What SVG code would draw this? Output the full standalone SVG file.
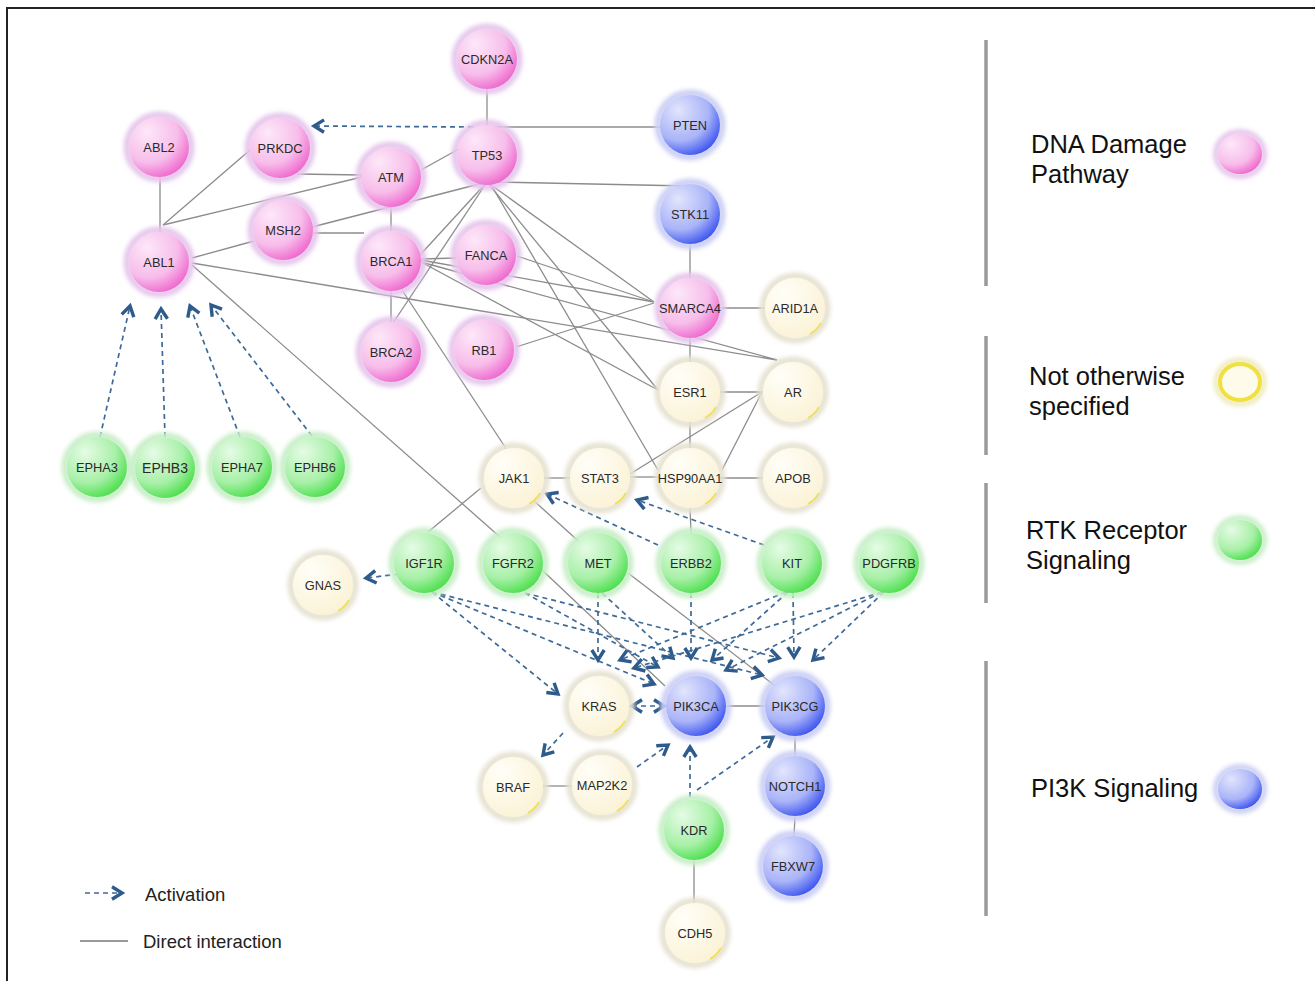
<svg xmlns="http://www.w3.org/2000/svg" xmlns:xlink="http://www.w3.org/1999/xlink" width="1315" height="981" viewBox="0 0 1315 981">
<style>
.e{stroke:#8c8c8c;stroke-width:1.3;fill:none}
.a{stroke:#3d6a98;stroke-width:1.7;stroke-dasharray:5 4;fill:none;marker-end:url(#ah)}
.nt{font-family:"Liberation Sans",Arial,sans-serif;font-size:12.8px;fill:#2a2a2a;text-anchor:middle}
.lg{font-family:"Liberation Sans",Arial,sans-serif;font-size:25.5px;fill:#111}
.ls{font-family:"Liberation Sans",Arial,sans-serif;font-size:18.5px;fill:#222}
.bar{stroke:#9a9a9a;stroke-width:3.5}
</style>
<defs>
<radialGradient id="gp" cx="0.35" cy="0.3" r="0.8" fx="0.3" fy="0.25"><stop offset="0" stop-color="#fde8f9"/><stop offset="0.6" stop-color="#f7bdea"/><stop offset="1" stop-color="#ee58c9"/></radialGradient>
<radialGradient id="gb" cx="0.35" cy="0.3" r="0.8" fx="0.3" fy="0.25"><stop offset="0" stop-color="#e2e5fc"/><stop offset="0.6" stop-color="#aab4f8"/><stop offset="1" stop-color="#2a44ee"/></radialGradient>
<radialGradient id="gg" cx="0.35" cy="0.3" r="0.8" fx="0.3" fy="0.25"><stop offset="0" stop-color="#e6fbe6"/><stop offset="0.6" stop-color="#a8f0a8"/><stop offset="1" stop-color="#3cdc3c"/></radialGradient>
<radialGradient id="gy" cx="0.35" cy="0.3" r="0.8" fx="0.3" fy="0.25"><stop offset="0" stop-color="#fffef8"/><stop offset="1" stop-color="#fbf2d4"/></radialGradient>
<filter id="blur" x="-30%" y="-30%" width="160%" height="160%"><feGaussianBlur stdDeviation="2.2"/></filter>
<marker id="ah" viewBox="0 0 16 16" markerWidth="16" markerHeight="16" refX="12.5" refY="8" orient="auto" markerUnits="userSpaceOnUse"><path d="M2.5,1.8 L12.5,8 L2.5,14.2" fill="none" stroke="#2d5b8c" stroke-width="3.4" stroke-dasharray="none"/></marker>
<marker id="ahs" viewBox="0 0 16 16" markerWidth="16" markerHeight="16" refX="12.5" refY="8" orient="auto-start-reverse" markerUnits="userSpaceOnUse"><path d="M2.5,1.8 L12.5,8 L2.5,14.2" fill="none" stroke="#2d5b8c" stroke-width="3.4" stroke-dasharray="none"/></marker>
<g id="nP"><circle r="32" fill="none" stroke="#e6c6ec" stroke-width="7" filter="url(#blur)"/><circle r="30" fill="url(#gp)"/></g>
<g id="nB"><circle r="32" fill="none" stroke="#cbcff4" stroke-width="7" filter="url(#blur)"/><circle r="30" fill="url(#gb)"/></g>
<g id="nG"><circle r="32" fill="none" stroke="#c8eec8" stroke-width="7" filter="url(#blur)"/><circle r="30" fill="url(#gg)"/></g>
<g id="nY"><circle r="32" fill="none" stroke="#e6e2d2" stroke-width="7" filter="url(#blur)"/><circle r="30" fill="url(#gy)"/><path d="M25.98,15 A30,30 0 0 1 15,25.98" fill="none" stroke="#f0e050" stroke-width="1.6"/></g>
</defs>
<rect x="0" y="0" width="1315" height="981" fill="#ffffff"/>
<path d="M7,981 L7,8 L1315,8" fill="none" stroke="#222" stroke-width="2"/>

<g id="connectors">
<g id="interactions">
<path class="e" d="M487,89 L487,125"/>
<path class="e" d="M487,127 L662,127"/>
<path class="e" d="M497,182 L688,186"/>
<path class="e" d="M160,177 L160,232"/>
<path class="e" d="M163,225 L250,150"/>
<path class="e" d="M163,225 L362,177"/>
<path class="e" d="M297,174 L362,175"/>
<path class="e" d="M421,170 L466,145"/>
<path class="e" d="M312,227 L487,182"/>
<path class="e" d="M313,233 L364,233"/>
<path class="e" d="M391,207 L391,231"/>
<path class="e" d="M192,258 L254,241"/>
<path class="e" d="M192,263 L777,360"/>
<path class="e" d="M192,265 L500,537"/>
<path class="e" d="M487,182 L420,255"/>
<path class="e" d="M487,182 L393,323"/>
<path class="e" d="M391,291 L391,322"/>
<path class="e" d="M421,259 L456,258"/>
<path class="e" d="M421,260 L654,302"/>
<path class="e" d="M421,262 L777,360"/>
<path class="e" d="M421,262 L658,390"/>
<path class="e" d="M402,290 L507,450"/>
<path class="e" d="M517,256 L654,302"/>
<path class="e" d="M487,182 L654,302"/>
<path class="e" d="M487,182 L658,390"/>
<path class="e" d="M490,183 L658,470"/>
<path class="e" d="M516,347 L654,303"/>
<path class="e" d="M690,244 L690,278"/>
<path class="e" d="M720,308 L765,308"/>
<path class="e" d="M690,338 L690,362"/>
<path class="e" d="M720,392 L763,392"/>
<path class="e" d="M690,422 L690,448"/>
<path class="e" d="M762,392 L630,474"/>
<path class="e" d="M762,392 L722,470"/>
<path class="e" d="M544,478 L570,478"/>
<path class="e" d="M630,477 L660,477"/>
<path class="e" d="M720,478 L763,478"/>
<path class="e" d="M690,508 L691,533"/>
<path class="e" d="M428,532 L481,488"/>
<path class="e" d="M533,500 L585,547"/>
<path class="e" d="M542,570 L665,686"/>
<path class="e" d="M628,573 L778,688"/>
<path class="e" d="M726,706 L765,706"/>
<path class="e" d="M795,736 L795,756"/>
<path class="e" d="M795,816 L794,836"/>
<path class="e" d="M543,786 L572,786"/>
<path class="e" d="M694,860 L694,903"/>
</g>
<g id="activations">
<path class="a" d="M473,127 L314,126"/>
<path class="a" d="M100,437 L130,306"/>
<path class="a" d="M165,437 L161,309"/>
<path class="a" d="M240,437 L190,306"/>
<path class="a" d="M312,436 L211,305"/>
<path class="a" d="M658,545 L547,494"/>
<path class="a" d="M764,545 L637,500"/>
<path class="a" d="M408,573 L366,578"/>
<path class="a" d="M432,592 L558,694"/>
<path class="a" d="M432,592 L654,684"/>
<path class="a" d="M432,592 L762,675"/>
<path class="a" d="M525,593 L658,667"/>
<path class="a" d="M525,593 L779,658"/>
<path class="a" d="M598,593 L598,660"/>
<path class="a" d="M602,593 L673,658"/>
<path class="a" d="M691,593 L691,658"/>
<path class="a" d="M786,592 L620,660"/>
<path class="a" d="M788,592 L712,660"/>
<path class="a" d="M793,593 L794,657"/>
<path class="a" d="M882,592 L634,668"/>
<path class="a" d="M882,592 L726,670"/>
<path class="a" d="M884,592 L813,660"/>
<path class="a" d="M632,706 L664,706" style="marker-start:url(#ahs);marker-end:url(#ahs)"/>
<path class="a" d="M563,733 L543,755"/>
<path class="a" d="M637,767 L668,745"/>
<path class="a" d="M690,797 L690,747"/>
<path class="a" d="M697,790 L773,737"/>
</g>
</g>

<g id="n-CDKN2A" transform="translate(487,59)"><use href="#nP"/><text class="nt" y="4.5">CDKN2A</text></g>
<g id="n-ABL2" transform="translate(159,147)"><use href="#nP"/><text class="nt" y="4.5">ABL2</text></g>
<g id="n-PRKDC" transform="translate(280,148)"><use href="#nP"/><text class="nt" y="4.5">PRKDC</text></g>
<g id="n-PTEN" transform="translate(690,125)"><use href="#nB"/><text class="nt" y="4.5">PTEN</text></g>
<g id="n-TP53" transform="translate(487,155)"><use href="#nP"/><text class="nt" y="4.5">TP53</text></g>
<g id="n-ATM" transform="translate(391,177)"><use href="#nP"/><text class="nt" y="4.5">ATM</text></g>
<g id="n-STK11" transform="translate(690,214)"><use href="#nB"/><text class="nt" y="4.5">STK11</text></g>
<g id="n-MSH2" transform="translate(283,230)"><use href="#nP"/><text class="nt" y="4.5">MSH2</text></g>
<g id="n-ABL1" transform="translate(159,262)"><use href="#nP"/><text class="nt" y="4.5">ABL1</text></g>
<g id="n-BRCA1" transform="translate(391,261)"><use href="#nP"/><text class="nt" y="4.5">BRCA1</text></g>
<g id="n-FANCA" transform="translate(486,255)"><use href="#nP"/><text class="nt" y="4.5">FANCA</text></g>
<g id="n-SMARCA4" transform="translate(690,308)"><use href="#nP"/><text class="nt" y="4.5">SMARCA4</text></g>
<g id="n-ARID1A" transform="translate(795,308)"><use href="#nY"/><text class="nt" y="4.5">ARID1A</text></g>
<g id="n-BRCA2" transform="translate(391,352)"><use href="#nP"/><text class="nt" y="4.5">BRCA2</text></g>
<g id="n-RB1" transform="translate(484,350)"><use href="#nP"/><text class="nt" y="4.5">RB1</text></g>
<g id="n-ESR1" transform="translate(690,392)"><use href="#nY"/><text class="nt" y="4.5">ESR1</text></g>
<g id="n-AR" transform="translate(793,392)"><use href="#nY"/><text class="nt" y="4.5">AR</text></g>
<g id="n-EPHA3" transform="translate(97,467)"><use href="#nG"/><text class="nt" y="4.5">EPHA3</text></g>
<g id="n-EPHB3" transform="translate(165,468)"><use href="#nG"/><text class="nt" y="5" style="font-size:14px">EPHB3</text></g>
<g id="n-EPHA7" transform="translate(242,467)"><use href="#nG"/><text class="nt" y="4.5">EPHA7</text></g>
<g id="n-EPHB6" transform="translate(315,467)"><use href="#nG"/><text class="nt" y="4.5">EPHB6</text></g>
<g id="n-JAK1" transform="translate(514,478)"><use href="#nY"/><text class="nt" y="4.5">JAK1</text></g>
<g id="n-STAT3" transform="translate(600,478)"><use href="#nY"/><text class="nt" y="4.5">STAT3</text></g>
<g id="n-HSP90AA1" transform="translate(690,478)"><use href="#nY"/><text class="nt" y="4.5">HSP90AA1</text></g>
<g id="n-APOB" transform="translate(793,478)"><use href="#nY"/><text class="nt" y="4.5">APOB</text></g>
<g id="n-GNAS" transform="translate(323,585)"><use href="#nY"/><text class="nt" y="4.5">GNAS</text></g>
<g id="n-IGF1R" transform="translate(424,563)"><use href="#nG"/><text class="nt" y="4.5">IGF1R</text></g>
<g id="n-FGFR2" transform="translate(513,563)"><use href="#nG"/><text class="nt" y="4.5">FGFR2</text></g>
<g id="n-MET" transform="translate(598,563)"><use href="#nG"/><text class="nt" y="4.5">MET</text></g>
<g id="n-ERBB2" transform="translate(691,563)"><use href="#nG"/><text class="nt" y="4.5">ERBB2</text></g>
<g id="n-KIT" transform="translate(792,563)"><use href="#nG"/><text class="nt" y="4.5">KIT</text></g>
<g id="n-PDGFRB" transform="translate(889,563)"><use href="#nG"/><text class="nt" y="4.5">PDGFRB</text></g>
<g id="n-KRAS" transform="translate(599,706)"><use href="#nY"/><text class="nt" y="4.5">KRAS</text></g>
<g id="n-PIK3CA" transform="translate(696,706)"><use href="#nB"/><text class="nt" y="4.5">PIK3CA</text></g>
<g id="n-PIK3CG" transform="translate(795,706)"><use href="#nB"/><text class="nt" y="4.5">PIK3CG</text></g>
<g id="n-BRAF" transform="translate(513,787)"><use href="#nY"/><text class="nt" y="4.5">BRAF</text></g>
<g id="n-MAP2K2" transform="translate(602,785)"><use href="#nY"/><text class="nt" y="4.5">MAP2K2</text></g>
<g id="n-NOTCH1" transform="translate(795,786)"><use href="#nB"/><text class="nt" y="4.5">NOTCH1</text></g>
<g id="n-KDR" transform="translate(694,830)"><use href="#nG"/><text class="nt" y="4.5">KDR</text></g>
<g id="n-FBXW7" transform="translate(793,866)"><use href="#nB"/><text class="nt" y="4.5">FBXW7</text></g>
<g id="n-CDH5" transform="translate(695,933)"><use href="#nY"/><text class="nt" y="4.5">CDH5</text></g>

<g id="legend-categories">
<line class="bar" x1="986" y1="40" x2="986" y2="286"/>
<line class="bar" x1="986" y1="336" x2="986" y2="455"/>
<line class="bar" x1="986" y1="483" x2="986" y2="603"/>
<line class="bar" x1="986" y1="661" x2="986" y2="916"/>
<text class="lg" x="1031" y="153">DNA Damage</text>
<text class="lg" x="1031" y="183">Pathway</text>
<ellipse cx="1240" cy="154" rx="24" ry="22" fill="none" stroke="#e6c6ec" stroke-width="6" filter="url(#blur)"/>
<ellipse cx="1240" cy="154" rx="22" ry="20" fill="url(#gp)"/>
<text class="lg" x="1029" y="385">Not otherwise</text>
<text class="lg" x="1029" y="415">specified</text>
<ellipse cx="1240" cy="382" rx="24" ry="22" fill="none" stroke="#efe9b8" stroke-width="5" filter="url(#blur)"/>
<ellipse cx="1240" cy="382" rx="20" ry="18" fill="#fffbea" stroke="#f0e040" stroke-width="4"/>
<text class="lg" x="1026" y="539">RTK Receptor</text>
<text class="lg" x="1026" y="569">Signaling</text>
<ellipse cx="1240" cy="540" rx="24" ry="22" fill="none" stroke="#c8eec8" stroke-width="6" filter="url(#blur)"/>
<ellipse cx="1240" cy="540" rx="22" ry="20" fill="url(#gg)"/>
<text class="lg" x="1031" y="797">PI3K Signaling</text>
<ellipse cx="1240" cy="789" rx="24" ry="22" fill="none" stroke="#cbcff4" stroke-width="6" filter="url(#blur)"/>
<ellipse cx="1240" cy="789" rx="22" ry="20" fill="url(#gb)"/>
</g>
<g id="legend-edges">
<path class="a" d="M85,893 L122,893"/>
<text class="ls" x="145" y="901">Activation</text>
<line x1="80" y1="941" x2="128" y2="941" stroke="#999" stroke-width="2"/>
<text class="ls" x="143" y="948">Direct interaction</text>
</g>
</svg>
